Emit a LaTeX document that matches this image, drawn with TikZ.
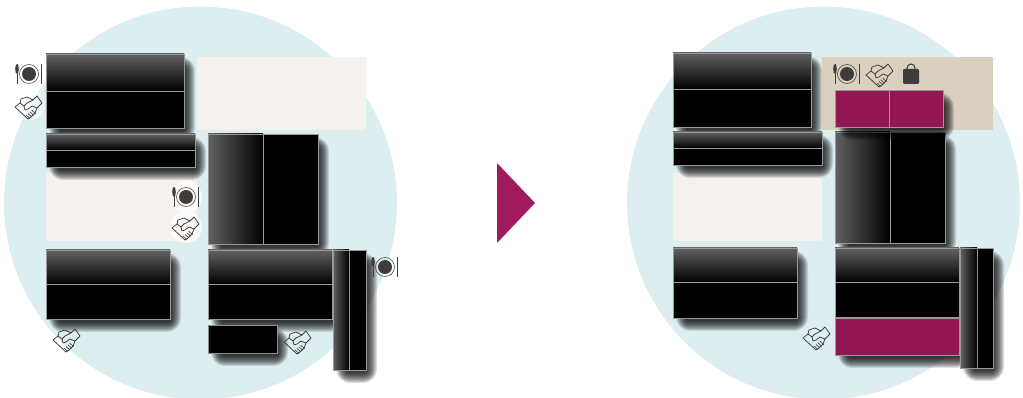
\documentclass[tikz,border=0pt]{standalone}
\definecolor{sea}{HTML}{DDEEF1}
\definecolor{pale}{HTML}{F4F1EF}
\definecolor{sand}{HTML}{DAD0BF}
\definecolor{wine}{HTML}{921652}
\definecolor{arrowred}{HTML}{A01A5F}
\definecolor{ink}{HTML}{3F3D3B}
\tikzset{
  area/.style={draw=none,inner sep=0,outer sep=0,anchor=north west},
  bench/.style={draw=black!45,line width=.7pt,inner sep=0,outer sep=0,anchor=north west},
  half/.style={draw=black!40,line width=.6pt,inner sep=0,outer sep=0,anchor=north west,fill=black},
  shadedown/.style={half,top color=black!62,bottom color=black},
  shaderight/.style={half,left color=black!62,right color=black},
  taken/.style={half,fill=wine},
  plate/.pic={
    \draw[ink,line width=.45pt] (0,0) circle (9.5);
    \fill[ink] (0,0) circle (7);
    \draw[ink,line width=.8pt] (-12,-10)--(-12,10);
    \fill[ink] (-12,-5) ellipse (1.8 and 5);
    \draw[ink,line width=.8pt] (12,-10)--(12,10);
  },
  shake/.pic={
    \draw[ink,line width=.65pt,line join=round]
      (-14,1)--(-9,-3)--(-5,0)--(-2,-3)--(4,-6)--(8,-10)--(13,-3)--(8,2)--(6,7)
      --(2,11)--(-1,13)--cycle;
    \draw[ink,line width=.65pt,line join=round] (-9,-3)--(-8,-7)--(-2,-9)--(4,-6);
    \draw[ink,line width=.65pt,line join=round] (-5,0)--(-4,4)--(-1,3)--(3,0)--(8,2);
    \foreach \k in {0,1,2,3}
      \draw[ink,line width=.55pt] (-3+1.9*\k,9-1.6*\k)--(1+1.9*\k,12.5-1.6*\k);
  },
  bag/.pic={
    \fill[ink,rounded corners=1] (-8,-5) rectangle (8,10);
    \draw[ink,line width=.9pt] (-4,-5)--(-4,-6) arc (180:360:4)--(4,-5);
  }
}
% soft shadow under a bench
\newcommand{\softshadow}[4]{%
  \foreach \r in {5,...,-5}
    \fill[black,opacity=.12,rounded corners=\r+7] (#1+8-\r,#2+8-\r) rectangle (#1+#3+6+\r,#2+#4+8+\r);
}
% horizontal bench, two halves stacked
\newcommand{\benchrow}[7]{%
  \softshadow{#2}{#3}{#4}{#5}
  \node[bench,minimum width=#4*.3mm,minimum height=#5*.3mm] (#1) at (#2,#3) {};
  \node[#7,minimum width=#4*.3mm,minimum height=#6*.3mm] (#1a) at (#1.north west) {};
  \node[half,minimum width=#4*.3mm,minimum height=(#5-#6)*.3mm] (#1b) at (#1a.south west) {};
}
% vertical bench, two halves side by side
\newcommand{\benchcol}[6]{%
  \softshadow{#2}{#3}{#4}{#5}
  \node[bench,minimum width=#4*.3mm,minimum height=#5*.3mm] (#1) at (#2,#3) {};
  \node[shaderight,minimum width=#6*.3mm,minimum height=#5*.3mm] (#1a) at (#1.north west) {};
  \node[half,minimum width=(#4-#6)*.3mm,minimum height=#5*.3mm] (#1b) at (#1a.north east) {};
}
\begin{document}
\begin{tikzpicture}[x=.3mm,y=-.3mm]
  \useasboundingbox (0,0) rectangle (1023,398);
  \clip (0,0) rectangle (1023,398);
  % left floor
  \fill[sea] (200.5,203) circle (196.5);
  \node[area,fill=pale,minimum width=169*.3mm,minimum height=73*.3mm] (roomA) at (197,57) {};
  \node[area,fill=pale,minimum width=151*.3mm,minimum height=68*.3mm] (roomB) at (46,173) {};
  \fill[white,opacity=.5] (30,105) circle (15);
  \fill[white,opacity=.75] (186,197) circle (16);
  \fill[white,opacity=.75] (186,227) circle (16);
  \benchrow{la}{46}{54}{138}{74}{37}{shadedown}
  \benchrow{lb}{46}{134}{149}{33}{16}{shadedown}
  \benchcol{lc}{208}{134}{110}{110}{55}
  \benchrow{ld}{46}{250}{124}{69}{34}{shadedown}
  \benchrow{le}{208}{250}{124}{69}{34}{shadedown}
  \benchcol{lf}{333}{250}{33}{120}{16}
  \softshadow{208}{325}{69}{28}
  \node[bench,fill=black,minimum width=69*.3mm,minimum height=28*.3mm] (lg) at (208,325) {};
  \pic at (29,74) {plate};
  \pic at (29,106) {shake};
  \pic at (186,197) {plate};
  \pic at (186,227) {shake};
  \pic at (385,267) {plate};
  \pic at (67,339) {shake};
  \pic at (298,341) {shake};
  % arrow
  \fill[arrowred] (497,163)--(535,203)--(497,243)--cycle;
  % right floor
  \fill[sea] (823.5,203) circle (196.5);
  \node[area,fill=sand,minimum width=171*.3mm,minimum height=73*.3mm] (roomC) at (822,57) {};
  \node[area,fill=pale,minimum width=149*.3mm,minimum height=68*.3mm] (roomD) at (673,173) {};
  \benchrow{ra}{673}{53}{138}{74}{36}{shadedown}
  \benchrow{rb}{673}{132}{149}{33}{16}{shadedown}
  \benchcol{rc}{835}{132}{110}{111}{55}
  \benchrow{rd}{673}{248}{124}{70}{34}{shadedown}
  \softshadow{835}{248}{124}{107}
  \node[bench,fill=wine,minimum width=124*.3mm,minimum height=107*.3mm] (re) at (835,248) {};
  \node[shadedown,minimum width=124*.3mm,minimum height=34*.3mm] (rea) at (re.north west) {};
  \node[half,minimum width=124*.3mm,minimum height=35*.3mm] (reb) at (rea.south west) {};
  \node[taken,minimum width=124*.3mm,minimum height=37*.3mm] (rec) at (835,318) {};
  \benchcol{rf}{960}{248}{33}{120}{17}
  \softshadow{835}{90}{108}{37}
  \node[bench,fill=wine,minimum width=108*.3mm,minimum height=37*.3mm] (rg) at (835,90) {};
  \node[taken,minimum width=54*.3mm,minimum height=37*.3mm] (rga) at (rg.north west) {};
  \node[taken,minimum width=54*.3mm,minimum height=37*.3mm] (rgb) at (rga.north east) {};
  \pic at (847,74) {plate};
  \pic at (880,74) {shake};
  \pic at (911,74) {bag};
  \pic at (817,337) {shake};
\end{tikzpicture}
\end{document}
